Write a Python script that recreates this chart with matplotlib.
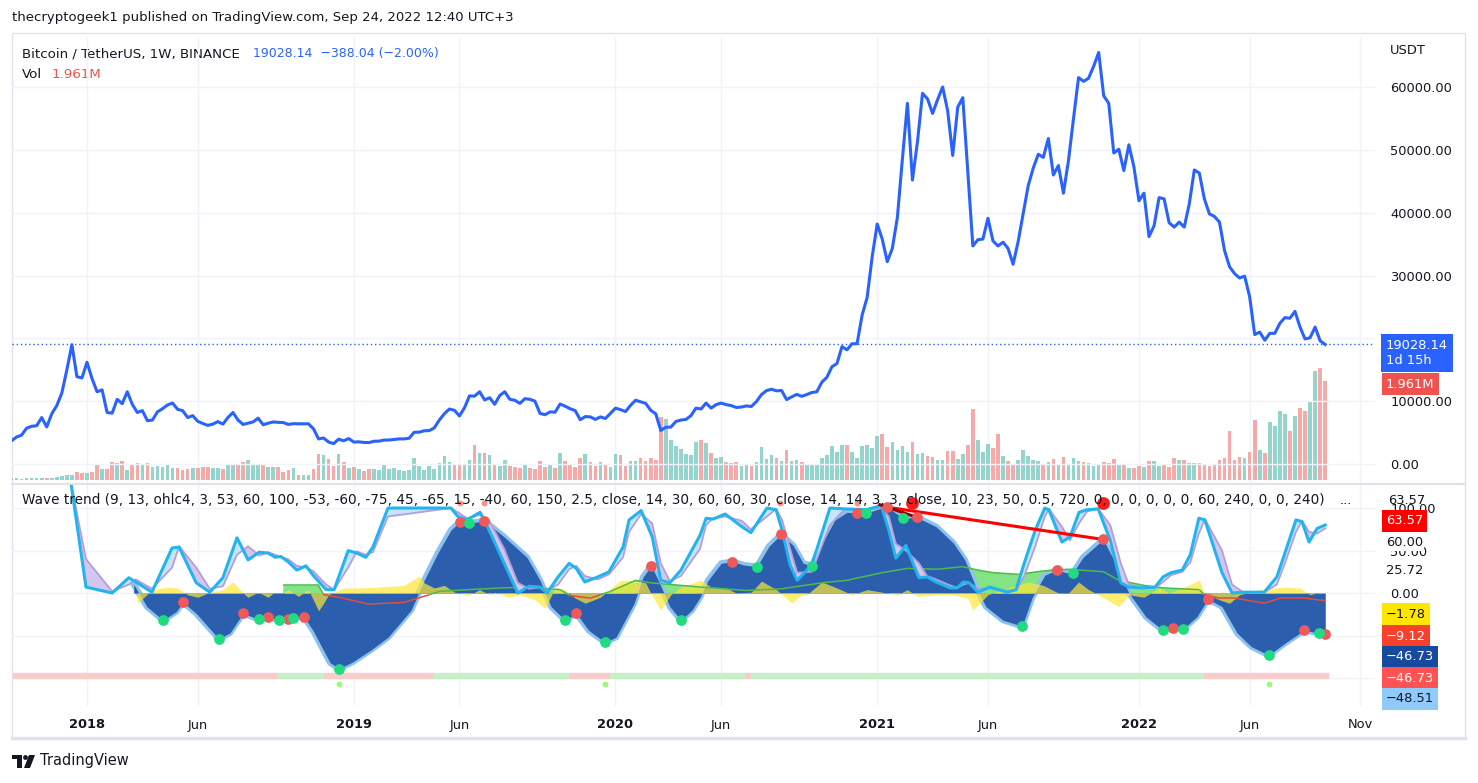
import numpy as np
import pandas as pd
import matplotlib
matplotlib.use("Agg")
import matplotlib.pyplot as plt
from matplotlib.collections import LineCollection
from matplotlib.ticker import FuncFormatter
from matplotlib.patches import Rectangle, Circle, Polygon

plt.rcParams['font.family'] = ['DejaVu Sans']

# ---------------- data (weekly bars from 2017-09-18) ----------------
first_week = "2017-09-18"

close_2017 = [3700, 4300, 4600, 5700, 6000, 6100, 7400, 5900, 8000, 9300, 11300, 15000, 19000, 13900, 13700]
close_2018 = [16200, 13600, 11500, 11800, 8200, 8100, 10300, 9600, 11500, 9500,
              8200, 8500, 6900, 7000, 8300, 8800, 9400, 9700, 8700, 8500,
              7400, 7700, 6800, 6450, 6150, 6350, 6750, 6350, 7400, 8200,
              7000, 6300, 6500, 6700, 7300, 6250, 6500, 6700, 6630, 6600,
              6300, 6420, 6400, 6400, 6400, 5600, 4000, 4140, 3500, 3250,
              3950, 3700, 4050]
close_2019 = [3500, 3530, 3440, 3410, 3620, 3640, 3810, 3820, 3900, 4000,
              4000, 4100, 5050, 5070, 5290, 5320, 5750, 7000, 8000, 8750,
              8550, 7650, 8950, 10850, 10800, 11500, 10200, 10550, 9500, 10900,
              11500, 10300, 10150, 9650, 10400, 10300, 10000, 8050, 7850, 8300,
              8250, 9550, 9200, 8800, 8500, 7050, 7550, 7500, 7100, 7500,
              7250, 8050]
close_2020 = [8900, 8650, 8350, 9350, 10150, 9900, 9650, 8550, 8000, 5350,
              5850, 5880, 6770, 7000, 7100, 7700, 8900, 8750, 9700, 8900,
              9450, 9700, 9450, 9300, 9000, 9070, 9240, 9160, 9930, 11050,
              11680, 11900, 11650, 11700, 10250, 10680, 11080, 10770, 11060, 11380,
              11500, 13020, 13800, 15480, 15980, 18680, 18180, 19150, 19150, 23700,
              26500, 33000]
close_2021 = [38200, 35800, 32200, 34300, 39200, 48500, 57400, 45200, 51300, 59000,
              58100, 55800, 58000, 60000, 56200, 49100, 56800, 58300, 46400, 34700,
              35700, 35800, 39100, 35500, 34700, 35300, 34300, 31800, 35400, 39900,
              44300, 47100, 49300, 48800, 51800, 46000, 47500, 43100, 48300, 55000,
              61500, 60900, 61400, 63300, 65500, 58600, 57400, 49500, 50100, 46700,
              50800, 47300]
close_2022 = [41900, 43100, 36200, 37900, 42400, 42200, 38400, 37700, 38500, 37700,
              41400, 46800, 46300, 42200, 39800, 39400, 38500, 34000, 31400, 30300,
              29600, 29900, 26600, 20600, 21000, 19700, 20800, 20800, 22400, 23300,
              23200, 24300, 21800, 19900, 20100, 21800, 19600, 19028.14]

# weekly volume, thousand BTC
volume_k = [40,
    40, 20, 40, 40, 40, 40, 40, 40, 60, 80, 100, 100, 160, 140, 140, 160, 320, 220, 220, 360,
    340, 380, 200, 300, 340, 300, 340, 260, 280, 260, 320, 240, 240, 200, 220, 240, 240, 260, 260, 240,
    240, 220, 320, 320, 300, 360, 400, 320, 320, 320, 260, 260, 260, 160, 200, 240, 100, 100, 100, 220,
    520, 500, 420, 280, 520,
    360, 240, 260, 220, 180, 220, 220, 200, 320, 220, 240, 200, 180, 200, 440, 280, 200, 280, 220, 340,
    480, 360, 320, 320, 300, 400, 700, 540, 540, 500, 300, 280, 400, 280, 260, 240, 300, 240, 220, 380,
    260, 300, 240, 540, 380, 320, 260, 440, 520, 360, 280, 360, 300, 260, 520, 500, 280, 380, 380, 440,
    380, 440, 400, 1240, 1200, 800, 680, 620, 520,
    500, 760, 800, 740, 540, 440, 460, 360, 340, 360, 280, 300, 280, 360, 660, 420, 500, 440,
    380, 600, 380, 400, 360, 320, 320, 300, 440, 500, 680, 560, 700, 700, 560, 440, 680, 700, 640, 880,
    920, 660, 760, 600, 680, 560, 760, 520, 540, 480, 460, 400, 400, 580, 580, 420, 520, 700, 1400, 800,
    560, 720, 640, 920, 480, 380, 320,
    400, 600, 480, 400, 380, 320, 360, 420, 320, 460, 320, 440, 380, 360, 340, 280, 320, 360, 340, 420,
    300, 300, 240, 240, 280, 260, 380, 380, 280, 320, 260, 440, 400, 400, 340, 340, 340, 300, 280, 300,
    400, 440, 980, 400, 460, 440, 560, 1180, 600, 540, 1140, 1060, 1360, 1300, 980, 1260, 1420, 1360, 1540, 2160,
    2220, 1961]

# wave trend oscillator (bar index, value)
wave_x = [24.3, 26.9, 30.1, 32.7, 34.1, 36.7, 41.2, 43.4, 46.0, 49.2, 51.0, 53.1, 54.9, 55.9, 58.1,
          59.9, 63.3, 65.1, 67.8, 71.4, 74.8, 79.4, 82.0, 84.7, 87.3, 89.1, 90.9, 93.9, 97.9, 102.4,
          105.0, 107.2, 110.0, 112.2, 114.7, 117.9, 120.1, 123.7, 125.5, 127.1, 128.5, 130.8, 133.0, 135.2,
          136.8, 138.4, 141.0, 143.2, 145.5, 148.1, 150.5, 152.9, 155.3, 157.3, 159.0, 161.0, 163.6, 166.0,
          168.0, 169.8, 172.8, 174.0, 177.1, 179.9, 183.7, 187.1, 189.4, 191.6, 193.6, 197.0, 200.8, 202.8,
          205.3, 207.7, 209.5, 210.9, 212.9, 216.9, 219.7, 222.0, 225.4, 228.8, 230.8, 232.8, 235.5, 237.7,
          240.5, 243.5, 246.3, 249.8, 253.0, 256.8, 259.8, 261.0]
wave_y = [10, -16, -32, -22, -11, -24, -54, -47, -24, -31, -28, -32, -31, -29, -28,
          -44, -82, -89, -81, -67, -52, -20, 15, 47, 74, 84, 82, 85, 66, 42,
          15, -16, -32, -24, -44, -58, -52, -12, 19, 32, 15, -16, -32, -20,
          -5, 15, 35, 37, 33, 31, 55, 69, 56, 35, 32, 58, 86, 95,
          94, 94, 100, 101, 88, 89, 78, 59, 39, 7, -16, -32, -39, -5,
          21, 27, 24, 24, 42, 63, 31, 0, -28, -44, -41, -42, -28, -7,
          -16, -47, -63, -73, -59, -44, -47, -48]

stoch_x = [11.8, 14.8, 20.0, 23.3, 24.7, 27.9, 31.9, 33.3, 36.7, 39.4, 42.0, 44.8, 47.0, 49.2, 51.0,
           52.4, 53.5, 54.9, 56.7, 58.5, 59.9, 62.5, 64.1, 66.9, 68.6, 70.4, 71.8, 74.8, 87.3, 88.7,
           90.5, 93.1, 94.9, 97.9, 100.6, 102.8, 105.0, 106.4, 108.6, 110.8, 112.2, 113.9, 116.5, 118.7,
           121.5, 122.7, 125.1, 127.3, 129.0, 130.8, 133.0, 136.8, 138.0, 139.4, 141.8, 145.1, 146.9,
           150.1, 151.9, 153.1, 154.7, 156.1, 159.0, 162.6, 165.6, 169.8, 172.8, 174.3, 175.7, 177.7,
           180.3, 181.9, 183.7, 186.5, 187.9, 189.1, 190.3, 192.0, 194.4, 197.8, 199.6, 201.2, 203.4,
           205.3, 206.1, 208.7, 210.3, 212.1, 213.7, 215.9, 218.3, 220.4, 222.0, 224.6, 227.2, 228.8,
           230.4, 232.6, 234.2, 235.9, 237.1, 240.5, 242.5, 244.7, 248.9, 251.4, 253.0, 255.2, 256.4,
           257.8, 259.4, 261.0]
stoch_fast = [130, 7, 0, 18, 13, 1, 53, 54, 12, 1, 18, 65, 39, 48, 47, 42, 43, 37, 27, 32,
              21, 4, 4, 50, 47, 42, 54, 100, 100, 90, 86, 95, 74, 35, 0, 8, 7, 0, 19, 35,
              29, 13, 19, 25, 54, 86, 97, 66, 15, 12, 27, 68, 88, 87, 93, 78, 71, 100, 98, 74,
              33, 15, 33, 100, 99, 98, 103, 74, 41, 56, 18, 19, 13, 6, 6, 13, 12, 1, 7, 1,
              4, 35, 74, 100, 98, 60, 66, 95, 98, 99, 62, 12, 7, 6, 7, 19, 24, 27, 45, 88,
              86, 24, 0, 1, 1, 19, 47, 86, 84, 60, 76, 80]
stoch_slow = [130, 40, 2, 10, 16, 5, 30, 55, 30, 5, 8, 45, 55, 44, 48, 45, 42, 40, 32, 30,
              26, 10, 4, 30, 49, 45, 48, 90, 100, 95, 88, 92, 85, 52, 12, 5, 7, 3, 10, 28,
              32, 20, 16, 22, 42, 72, 93, 82, 35, 14, 20, 52, 80, 88, 90, 85, 75, 90, 99, 86,
              52, 24, 25, 80, 99, 98, 100, 90, 58, 50, 35, 20, 16, 9, 6, 10, 12, 5, 5, 3,
              3, 20, 55, 90, 99, 78, 62, 82, 96, 99, 80, 35, 10, 7, 6, 13, 21, 25, 36, 70,
              87, 50, 10, 1, 1, 10, 35, 72, 85, 72, 70, 76]

mfi_x = [25, 28, 31, 33, 35, 37, 39, 42, 44, 46, 47, 49, 51, 52, 54, 55, 57, 59, 61, 62,
         63, 66, 69, 73, 78, 81, 82, 84, 86, 88, 91, 93, 95, 96, 99, 101, 104, 106, 108, 110,
         112, 114, 117, 118, 121, 123, 126, 127, 129, 131, 133, 137,
         139, 142, 144, 147, 149, 152, 155, 157, 158, 161, 164, 167, 170, 173, 176, 178, 180, 184,
         187, 190, 191, 194, 197, 202, 205, 208, 210, 212, 214, 216, 220, 222, 225, 228, 230, 233,
         236, 237, 240, 242, 244, 246, 249, 253, 256, 258, 260, 261]
mfi_y = [-12, 4, 7, 6, -2, -5, 0, 4, 13, 0, -5, 1, -5, 0, 0, 4, -4, 4, -21, -12,
         -2, 6, 6, 7, 9, 20, 12, 6, 9, 1, -2, 4, -2, 1, -5, -2, -8, -18, 6, 4,
         -6, -12, -5, 0, 15, 15, 12, 0, -20, -2, 7, 15,
         7, 6, 0, 1, 14, 4, -12, -2, -2, 13, 6, -2, 4, 1, -2, 4, -4, -2,
         -2, -6, -20, -2, 4, 13, 9, 0, 0, 13, 4, -2, -16, -2, -5, 6, 0, 7,
         15, 0, -8, -12, -2, 1, 5, 7, 6, -2, 1, 0]

trend_x = [54, 61, 62, 65, 71, 78, 83, 85, 91, 97, 103, 109, 111, 115, 117, 119, 124, 127,
           137, 146, 153, 161, 166, 173, 178, 184, 189, 192, 195, 200, 205, 210, 217, 220,
           225, 229, 236, 237, 240, 243, 249, 252, 257, 261]
trend_y = [9, 9, -2, -5, -13, -11, -2, 2, 4, 6, 7, 4, -3, -6, -2, 2, 15, 12,
           7, 3, 5, 12, 15, 24, 29, 28, 31, 27, 24, 22, 26, 28, 25, 15,
           9, 6, 4, -2, -6, -6, -12, -6, -6, -9]

sell_x = [34.1, 46.0, 51.0, 54.9, 58.1, 89.1, 93.9, 112.2, 127.1, 143.2, 152.9, 168.0, 174.0, 179.9,
          207.7, 216.9, 230.8, 237.7, 256.8, 261.0]
sell_y = [-11, -24, -28, -31, -28, 84, 85, -24, 32, 37, 69, 94, 101, 89, 27, 63, -41, -7, -44, -48]
buy_x = [30.1, 41.2, 49.2, 53.1, 55.9, 65.1, 90.9, 110.0, 117.9, 133.0, 148.1, 159.0, 169.8, 177.1,
         200.8, 210.9, 228.8, 232.8, 249.8, 259.8]
buy_y = [-32, -54, -31, -32, -29, -89, 82, -32, -58, -32, 31, 32, 94, 88, -39, 24, -44, -42, -73, -47]

div_small_x = [89.1, 93.9, 152.7, 168.0]
div_big_x = [178.9, 216.9]
div_line_x = [174.0, 216.9]
div_line_y = [101, 63]
div_dark_x = [172.5, 179.9]
div_dark_y = [104, 89]

band_start = [0.3, 53, 62, 84, 111, 119, 146, 147, 237]
band_end = [53, 62, 84, 111, 119, 146, 147, 237, 261.5]
band_bull = [False, True, False, True, False, True, False, True, False]
gold_x = [65.1, 117.9, 249.8]

# ---------------- figure ----------------
close = np.array(close_2017 + close_2018 + close_2019 + close_2020 + close_2021 + close_2022, dtype=float)
vol = np.array(volume_k, dtype=float)
n = len(close)
bars = np.arange(n)
weeks = pd.date_range(first_week, periods=n + 12, freq="W-MON")

W, H, DPI = 1478, 783, 100
fig = plt.figure(figsize=(W / DPI, H / DPI), dpi=DPI)
fig.patch.set_facecolor("white")


def rect(x0, y0, x1, y1):
    return [x0 / W, 1 - y1 / H, (x1 - x0) / W, (y1 - y0) / H]


ui = fig.add_axes([0, 0, 1, 1], zorder=0)
ui.set_xlim(0, W)
ui.set_ylim(H, 0)
ui.axis("off")

ax_vol = fig.add_axes(rect(12, 37, 1375, 483), zorder=1)
ax = fig.add_axes(rect(12, 37, 1375, 483), zorder=2)
ax_wt = fig.add_axes(rect(12, 485, 1375, 706), zorder=2)
for a in (ax_vol, ax, ax_wt):
    a.patch.set_visible(False)

top = fig.add_axes([0, 0, 1, 1], zorder=5)
top.set_xlim(0, W)
top.set_ylim(H, 0)
top.axis("off")
top.patch.set_visible(False)

XL = (0.1, 270.9)
TXT = "#131722"
GRID = "#f0f3fa"
FS = 9.4

# time ticks: first bar of each January / June, and Nov 2022
tick_pos, tick_lab, tick_bold = [], [], []
for i in range(1, len(weeks)):
    d, p = weeks[i], weeks[i - 1]
    if d.month != p.month:
        if d.month == 1:
            tick_pos.append(i); tick_lab.append(str(d.year)); tick_bold.append(True)
        elif d.month == 6:
            tick_pos.append(i); tick_lab.append("Jun"); tick_bold.append(False)
        elif d.month == 11 and d.year == 2022:
            tick_pos.append(i); tick_lab.append("Nov"); tick_bold.append(False)

for a in (ax_vol, ax, ax_wt):
    a.set_xlim(*XL)
    for s in a.spines.values():
        s.set_visible(False)

# volume
up = np.r_[True, close[1:] >= close[:-1]]
vcol = np.where(up, "#93d4cd", "#f7a9a8")
ax_vol.bar(bars, vol, width=0.72, color=vcol, zorder=2)
ax_vol.set_xticks(tick_pos)
ax_vol.set_yticks([])
ax_vol.set_ylim(-59, 8771)
ax_vol.tick_params(length=0, labelbottom=False, labelleft=False)
ax_vol.grid(axis="x", color=GRID, lw=1, zorder=0)
ax_vol.set_axisbelow(True)

# price
ax.set_ylim(-3020, 67960)
ax.plot(bars, close, color="#2962ff", lw=2.2, solid_joinstyle="round", zorder=3)
ax.axhline(close[-1], color="#2962ff", lw=1, ls=(0, (1, 2)), zorder=2)
ax.set_yticks(range(0, 60001, 10000))
ax.yaxis.tick_right()
ax.yaxis.set_major_formatter(FuncFormatter(lambda v, p: f"{v:.2f}"))
ax.tick_params(axis="y", length=0, pad=11, labelsize=FS, labelcolor=TXT)
ax.set_xticks(tick_pos)
ax.tick_params(axis="x", length=0, labelbottom=False)
ax.grid(axis="y", color=GRID, lw=1, zorder=0)
ax.set_axisbelow(True)

# wave trend pane
ax_wt.set_ylim(-132.9, 127.1)
ax_wt.set_yticks([-100, -50, 0, 50, 100])
ax_wt.yaxis.tick_right()
ax_wt.yaxis.set_major_formatter(FuncFormatter(lambda v, p: f"{v:.2f}" if v >= 0 else ""))
ax_wt.tick_params(axis="y", length=0, pad=11, labelsize=FS, labelcolor=TXT)
ax_wt.grid(color=GRID, lw=1, zorder=0)
ax_wt.set_axisbelow(True)
ax_wt.set_xticks(tick_pos)
ax_wt.set_xticklabels(tick_lab)
ax_wt.tick_params(axis="x", length=0, pad=9, labelsize=FS, labelcolor=TXT)
for lab, b in zip(ax_wt.get_xticklabels(), tick_bold):
    if b:
        lab.set_fontweight("bold")

for s0, s1, b in zip(band_start, band_end, band_bull):
    ax_wt.broken_barh([(s0, s1 - s0)], (-100.5, 6), color="#c8f0c8" if b else "#f9cccc", zorder=1)

tx = np.array(trend_x, float)
ty = np.array(trend_y, float)
ax_wt.fill_between(tx, 0, ty, where=ty > 0, interpolate=True, color="#84e384", lw=0, zorder=1.5)

wx = np.array(wave_x)
wy = np.array(wave_y)
ax_wt.plot(wx, wy, color="#8ec2ee", lw=4.5, zorder=2, solid_joinstyle="round")
ax_wt.fill_between(wx, 0, wy, color="#8ec2ee", lw=0, zorder=2)
ax_wt.fill_between(wx, 0, wy, color="#2b5fae", lw=0, zorder=2.1)

ax_wt.fill_between(mfi_x, 0, mfi_y, color="#ffe733", alpha=0.7, lw=0, zorder=2.5)

segs = [[(tx[k], ty[k]), (tx[k + 1], ty[k + 1])] for k in range(len(tx) - 1)]
scol = ["#4cbb4c" if (ty[k] + ty[k + 1]) >= 0 else "#e84b3c" for k in range(len(tx) - 1)]
ax_wt.add_collection(LineCollection(segs, colors=scol, linewidths=1.1, zorder=3))

sx = np.array(stoch_x)
sf = np.array(stoch_fast, float)
ss = np.array(stoch_slow, float)
ax_wt.fill_between(sx, sf, ss, where=sf >= ss, interpolate=True, color="#c6e5fa", lw=0, zorder=3.2)
ax_wt.fill_between(sx, sf, ss, where=sf < ss, interpolate=True, color="#d4c6ee", lw=0, zorder=3.2)
ax_wt.plot(sx, ss, color="#b49ddc", lw=1.3, zorder=3.4)
ax_wt.plot(sx, sf, color="#22b4ef", lw=2.2, zorder=3.6, solid_joinstyle="round")

ax_wt.plot(div_line_x, div_line_y, color="#ff0000", lw=2.2, zorder=4)
ax_wt.plot(div_dark_x, div_dark_y, color="#9b0000", lw=2.2, zorder=4.1)

ax_wt.scatter(sell_x, sell_y, s=60, color="#f0595a", lw=0, zorder=5)
ax_wt.scatter(buy_x, buy_y, s=60, color="#1fdc80", lw=0, zorder=5)
ax_wt.scatter(div_small_x, [106] * len(div_small_x), s=18, color="#ff8f8a", lw=0, zorder=5)
ax_wt.scatter(div_big_x, [106] * len(div_big_x), s=85, color="#ff1a1a", lw=0, zorder=5)
ax_wt.scatter(gold_x, [-107] * len(gold_x), s=18, color="#a4f57f", lw=0, zorder=5)

# ---------------- chrome ----------------
ui.add_patch(Rectangle((12, 33), 1453, 705, fill=False, ec="#e0e3eb", lw=1))
ui.plot([12, 1465], [738, 738], color="#e0e3eb", lw=2.5)
ui.plot([12, 1465], [484, 484], color="#e0e3eb", lw=1.6)

ui.text(12, 18, "thecryptogeek1 published on TradingView.com, Sep 24, 2022 12:40 UTC+3",
        fontsize=9.5, color=TXT, va="center")
ui.text(22, 54, "Bitcoin / TetherUS, 1W, BINANCE", fontsize=9.6, color=TXT, va="center")
ui.text(253, 54, "19028.14  \u2212388.04 (\u22122.00%)", fontsize=9.0, color="#2962ff", va="center")
ui.text(22, 74, "Vol", fontsize=9.6, color=TXT, va="center")
ui.text(52, 74, "1.961M", fontsize=9.6, color="#ef5350", va="center")
ui.text(1390, 50, "USDT", fontsize=FS, color=TXT, va="center")

top.text(22, 500, "Wave trend (9, 13, ohlc4, 3, 53, 60, 100, -53, -60, -75, 45, -65, 15, -40, 60, 150, 2.5, "
         "close, 14, 30, 60, 60, 30, close, 14, 14, 3, 3, close, 10, 23, 50, 0.5, 720, 0, 0, 0, 0, 0, 0, "
         "60, 240, 0, 0, 240)", fontsize=9.85, color=TXT, va="center", zorder=6)
top.text(1340, 500, "...", fontsize=FS, color=TXT, va="center")


def scale_label(y, s, fc, tc, pad=0.32):
    if fc is None:
        top.text(1388, y, s, fontsize=FS, color=tc, va="center")
    else:
        top.text(1386, y, s, fontsize=FS, color=tc, va="center",
                 bbox=dict(boxstyle=f"square,pad={pad}", fc=fc, ec="none"))


scale_label(353, "19028.14\n1d 15h", "#2962ff", "white", pad=0.4)
scale_label(384, "1.961M", "#ef5350", "white")
scale_label(500, "63.57", None, TXT)
scale_label(521, "63.57", "#ff0000", "white")
scale_label(543, "60.00", "white", TXT, pad=0.1)
scale_label(571, "25.72", "white", TXT, pad=0.1)
scale_label(614, "\u22121.78", "#ffe600", TXT)
scale_label(636, "\u22129.12", "#f7412d", "white")
scale_label(657, "\u221246.73", "#17499f", "white")
scale_label(678, "\u221246.73", "#ff5252", "white")
scale_label(699, "\u221248.51", "#90caf9", TXT)

# TradingView logo
ui.add_patch(Rectangle((12, 755), 10, 4, color=TXT, lw=0))
ui.add_patch(Rectangle((17, 755), 5, 13, color=TXT, lw=0))
ui.add_patch(Circle((25.5, 757.5), 2.4, color=TXT, lw=0))
ui.add_patch(Polygon([(29, 755), (35, 755), (30, 768), (24, 768)], color=TXT, lw=0))
ui.text(40, 761, "TradingView", fontsize=10.5, color=TXT, va="center")

fig.savefig("out.png", dpi=DPI)
